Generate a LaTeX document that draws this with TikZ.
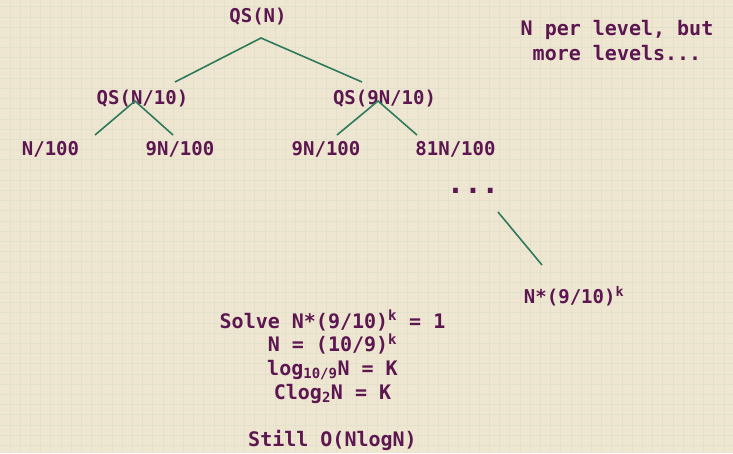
\documentclass[tikz,border=0pt]{standalone}
\usepackage{fontspec}
\setmonofont{DejaVu Sans Mono}
\definecolor{bgc}{HTML}{EEE6D0}
\definecolor{gridc}{HTML}{E2E1CC}
\definecolor{txtc}{HTML}{5C1650}
\definecolor{linec}{HTML}{2F7A5C}
\tikzset{
  lbl/.style={anchor=base, inner sep=0pt, text=txtc, font=\ttfamily\bfseries\fontsize{19}{23}\selectfont},
  big/.style={lbl, font=\ttfamily\bfseries\fontsize{20}{23}\selectfont},
  dots/.style={lbl, font=\ttfamily\bfseries\fontsize{29}{30}\selectfont},
  edge/.style={draw=linec, line width=1.6pt},
  gridline/.style={draw=gridc, line width=0.6pt}
}
\begin{document}
\begin{tikzpicture}[x=1pt,y=-1pt]
\fill[bgc] (0,0) rectangle (733,453);
\useasboundingbox (0,0) rectangle (733,453);
\foreach \i in {0,...,71} \draw[gridline] ({9.9+10.2*\i},0) -- ++(0,453);
\foreach \j in {0,...,44} \draw[gridline] (0,{6.7+10.2*\j}) -- ++(733,0);

\node[lbl] (qsn) at (258,22.5) {QS(N)};
\node[lbl] (qsa) at (142.5,104) {QS(N/10)};
\node[lbl] (qsb) at (384.5,104) {QS(9N/10)};
\node[lbl] (l1) at (50.5,155) {N/100};
\node[lbl] (l2) at (180,155) {9N/100};
\node[lbl] (l3) at (326,155) {9N/100};
\node[lbl] (l4) at (455.5,155) {81N/100};
\node[dots] (dd) at (473,193) {...};
\node[lbl] (lk) at (574,303) {N*(9/10)\textsuperscript{k}};

\node[big] (t1) at (617,35.7) {N per level, but};
\node[big] (t2) at (617,60) {more levels...};

\node[big] (s1) at (332.5,328.3) {Solve N*(9/10)\textsuperscript{k} = 1};
\node[big] (s2) at (332.5,351.7) {N = (10/9)\textsuperscript{k}};
\node[big] (s3) at (332.5,375) {log\textsubscript{10/9}N = K};
\node[big] (s4) at (332.5,399) {Clog\textsubscript{2}N = K};
\node[big] (s5) at (332.5,446.5) {Still O(NlogN)};

\coordinate (a0) at (261,38);
\coordinate (a1) at (175,82);
\coordinate (a2) at (362,82);
\coordinate (b0) at (135,101);
\coordinate (b1) at (95,135);
\coordinate (b2) at (173,135);
\coordinate (c0) at (378,101);
\coordinate (c1) at (337,135);
\coordinate (c2) at (417,135);
\coordinate (d0) at (498,212);
\coordinate (d1) at (542,265);

\draw[edge] (a1) -- (a0) -- (a2);
\draw[edge] (b1) -- (b0) -- (b2);
\draw[edge] (c1) -- (c0) -- (c2);
\draw[edge] (d0) -- (d1);
\end{tikzpicture}
\end{document}
